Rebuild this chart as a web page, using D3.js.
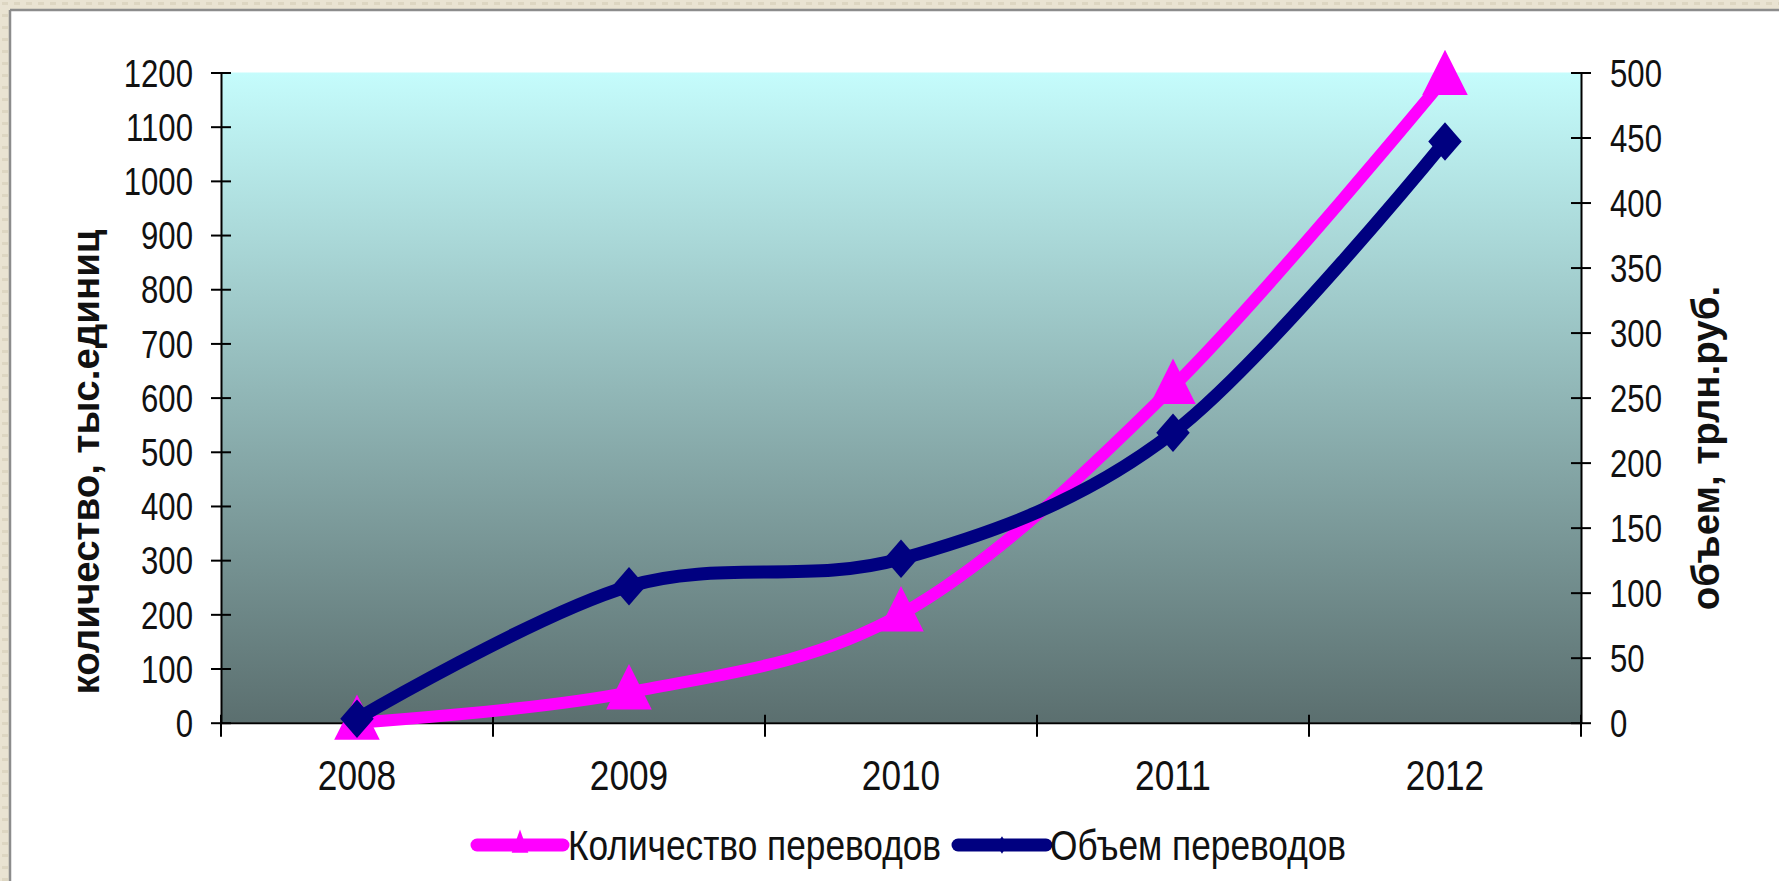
<!DOCTYPE html>
<html><head><meta charset="utf-8">
<script src="https://cdn.jsdelivr.net/npm/d3@7"></script>
<style>
html,body{margin:0;padding:0;background:#fff;overflow:hidden;}
svg{display:block;}
</style></head>
<body>
<svg id="chart" width="1779" height="881"></svg>
<script>
// ---- data ----
const years = ["2008", "2009", "2010", "2011", "2012"];
const countValues = [0, 56, 200, 620, 1190];      // Количество переводов, тыс. единиц (left axis)
const volumeValues = [3, 105, 126, 223, 447];     // Объем переводов, трлн. руб. (right axis)
const leftTicks = [0,100,200,300,400,500,600,700,800,900,1000,1100,1200];
const rightTicks = [0,50,100,150,200,250,300,350,400,450,500];
const seriesNames = ["Количество переводов", "Объем переводов"];
const leftTitle = "количество, тыс.единиц";
const rightTitle = "объем, трлн.руб.";

(function(){
// ---- font detection ----
function hasFont(name){
  const c=document.createElement('canvas').getContext('2d');
  const s="1200 Количество переводов";
  c.font="40px monospace"; const w1=c.measureText(s).width;
  c.font="40px '"+name+"', monospace"; const w2=c.measureText(s).width;
  return Math.abs(w1-w2)>0.5;
}
const narrowOK = hasFont("Liberation Sans Narrow");
const narrowFamily = narrowOK ? "'Liberation Sans Narrow', 'Arial Narrow', sans-serif" : "'Liberation Sans', Arial, sans-serif";
const squeeze = narrowOK ? 1 : 0.82;
function narrowize(sel){
  sel.each(function(){
    const t=d3.select(this);
    t.style("font-family", narrowFamily);
    if(squeeze!==1){
      const xx=+t.attr("x")||0;
      t.attr("transform","translate("+xx+",0) scale("+squeeze+",1) translate("+(-xx)+",0)");
    }
  });
}

const svg = d3.select("#chart");
const W=1779,H=881;

// ---- slide frame ----
const defs = svg.append("defs");
const pat = defs.append("pattern").attr("id","dots").attr("width",12).attr("height",12).attr("patternUnits","userSpaceOnUse");
pat.append("rect").attr("width",12).attr("height",12).attr("fill","#e9e3d2");
pat.append("rect").attr("x",2).attr("y",2).attr("width",6).attr("height",3).attr("fill","#ddd6c2");
svg.append("rect").attr("width",W).attr("height",H).attr("fill","url(#dots)");
svg.append("rect").attr("x",10).attr("y",10).attr("width",W-10).attr("height",H-10).attr("fill","#fff");
svg.append("line").attr("x1",10).attr("x2",10).attr("y1",10).attr("y2",H).attr("stroke","#8c8c8c").attr("stroke-width",2.5);
svg.append("line").attr("x1",10).attr("x2",W).attr("y1",10).attr("y2",10).attr("stroke","#8c8c8c").attr("stroke-width",2.5);

// ---- plot geometry ----
const pLeft=221, pRight=1581, pTop=72.5, pBottom=722.7;

const x = d3.scaleBand().domain(years).range([pLeft,pRight]).padding(0);
const yL = d3.scaleLinear().domain([0,1200]).range([pBottom,pTop]);
const yR = d3.scaleLinear().domain([0,500]).range([pBottom,pTop]);

// gradient background
const grad = defs.append("linearGradient").attr("id","bg").attr("x1",0).attr("x2",0).attr("y1",0).attr("y2",1);
grad.append("stop").attr("offset","0%").attr("stop-color","#c5fcfc");
grad.append("stop").attr("offset","100%").attr("stop-color","#5b6f6f");
svg.append("rect").attr("x",pLeft).attr("y",pTop).attr("width",pRight-pLeft).attr("height",pBottom-pTop).attr("fill","url(#bg)");

// ---- axes ----
const fmt = d3.format("d");
const axL = svg.append("g").attr("transform","translate("+pLeft+",0)")
  .call(d3.axisLeft(yL).tickValues(leftTicks).tickFormat(fmt).tickSize(10).tickPadding(18).tickSizeOuter(0));
axL.selectAll(".tick line").attr("x1",10).attr("x2",-10);
const axR = svg.append("g").attr("transform","translate("+pRight+",0)")
  .call(d3.axisRight(yR).tickValues(rightTicks).tickFormat(fmt).tickSize(10).tickPadding(19).tickSizeOuter(0));
axR.selectAll(".tick line").attr("x1",-10).attr("x2",10);
const axB = svg.append("g").attr("transform","translate(0,"+pBottom+")")
  .call(d3.axisBottom(x).tickSize(0).tickPadding(67).tickSizeOuter(0));
// category boundary ticks
const bounds = years.map(y=>x(y)).concat([pRight]);
svg.append("g").selectAll("line").data(bounds).join("line")
  .attr("x1",d=>d).attr("x2",d=>d).attr("y1",pBottom-8).attr("y2",pBottom+14)
  .attr("stroke","#000").attr("stroke-width",2);

[axL,axR,axB].forEach(a=>{
  a.selectAll(".domain").attr("stroke","#000").attr("stroke-width",2);
  a.selectAll(".tick line").attr("stroke","#000").attr("stroke-width",2);
  a.selectAll("text").attr("fill","#111").style("font-size", a===axB ? "43px" : "38px");
});
axL.selectAll("text").attr("dy","0.36em");
axR.selectAll("text").attr("dy","0.36em");
axB.selectAll("text").attr("dy","0");
narrowize(axL.selectAll("text"));
narrowize(axR.selectAll("text"));
narrowize(axB.selectAll("text"));

// axis titles
svg.append("text").attr("transform","translate(85,462) rotate(-90)")
  .attr("text-anchor","middle").attr("dominant-baseline","central")
  .style("font-family","'Liberation Sans', Arial, sans-serif").style("font-weight","bold").style("font-size","38.5px")
  .attr("fill","#111").text(leftTitle);
svg.append("text").attr("transform","translate(1705,448) rotate(-90)")
  .attr("text-anchor","middle").attr("dominant-baseline","central")
  .style("font-family","'Liberation Sans', Arial, sans-serif").style("font-weight","bold").style("font-size","38.5px")
  .attr("fill","#111").text(rightTitle);

// ---- lines ----
const cx = d=>x(d)+x.bandwidth()/2;
const pink="#ff00ff", navy="#000080";
const countPts = years.map((y,i)=>[cx(y), yL(countValues[i])]);
const volPts = years.map((y,i)=>[cx(y), yR(volumeValues[i])]);
const line = d3.line().curve(d3.curveCatmullRom.alpha(0));

svg.append("path").attr("d",line(countPts)).attr("fill","none").attr("stroke",pink)
  .attr("stroke-width",12).attr("stroke-linejoin","round").attr("stroke-linecap","round");
const tri = d3.symbol().type(d3.symbolTriangle).size(900);
svg.append("g").selectAll("path").data(countPts).join("path")
  .attr("d",tri).attr("transform",d=>"translate("+d[0]+","+(d[1]+2)+") scale(1,1.15)").attr("fill",pink);

svg.append("path").attr("d",line(volPts)).attr("fill","none").attr("stroke",navy)
  .attr("stroke-width",13).attr("stroke-linejoin","round").attr("stroke-linecap","round");
svg.append("g").selectAll("path").data(volPts).join("path")
  .attr("d",d3.symbol().type(d3.symbolSquare).size(560)).attr("transform",d=>"translate("+d[0]+","+d[1]+") scale(1,1.15) rotate(45)").attr("fill",navy);

// ---- legend ----
const lg = svg.append("g");
const legendItems = [
  {name:seriesNames[0], color:pink, x1:477, x2:563, tx:568, marker:"tri"},
  {name:seriesNames[1], color:navy, x1:958, x2:1046, tx:1050, marker:"dia"}
];
const ly=845;
legendItems.forEach(it=>{
  lg.append("line").attr("x1",it.x1).attr("x2",it.x2).attr("y1",ly).attr("y2",ly)
    .attr("stroke",it.color).attr("stroke-width",13).attr("stroke-linecap","round");
  const mx=(it.x1+it.x2)/2;
  if(it.marker==="tri"){
    lg.append("path").attr("d",d3.symbol().type(d3.symbolTriangle).size(120)).attr("transform","translate("+mx+","+ly+") scale(1,1.6)").attr("fill",it.color);
  } else {
    lg.append("path").attr("d",d3.symbol().type(d3.symbolSquare).size(60)).attr("transform","translate("+mx+","+ly+") scale(1,1.6) rotate(45)").attr("fill",it.color);
  }
  const t = lg.append("text").attr("x",it.tx).attr("y",ly).attr("dy","0.36em")
    .style("font-size","43px").attr("fill","#111").text(it.name);
  narrowize(t);
});
})();
</script>
</body></html>
